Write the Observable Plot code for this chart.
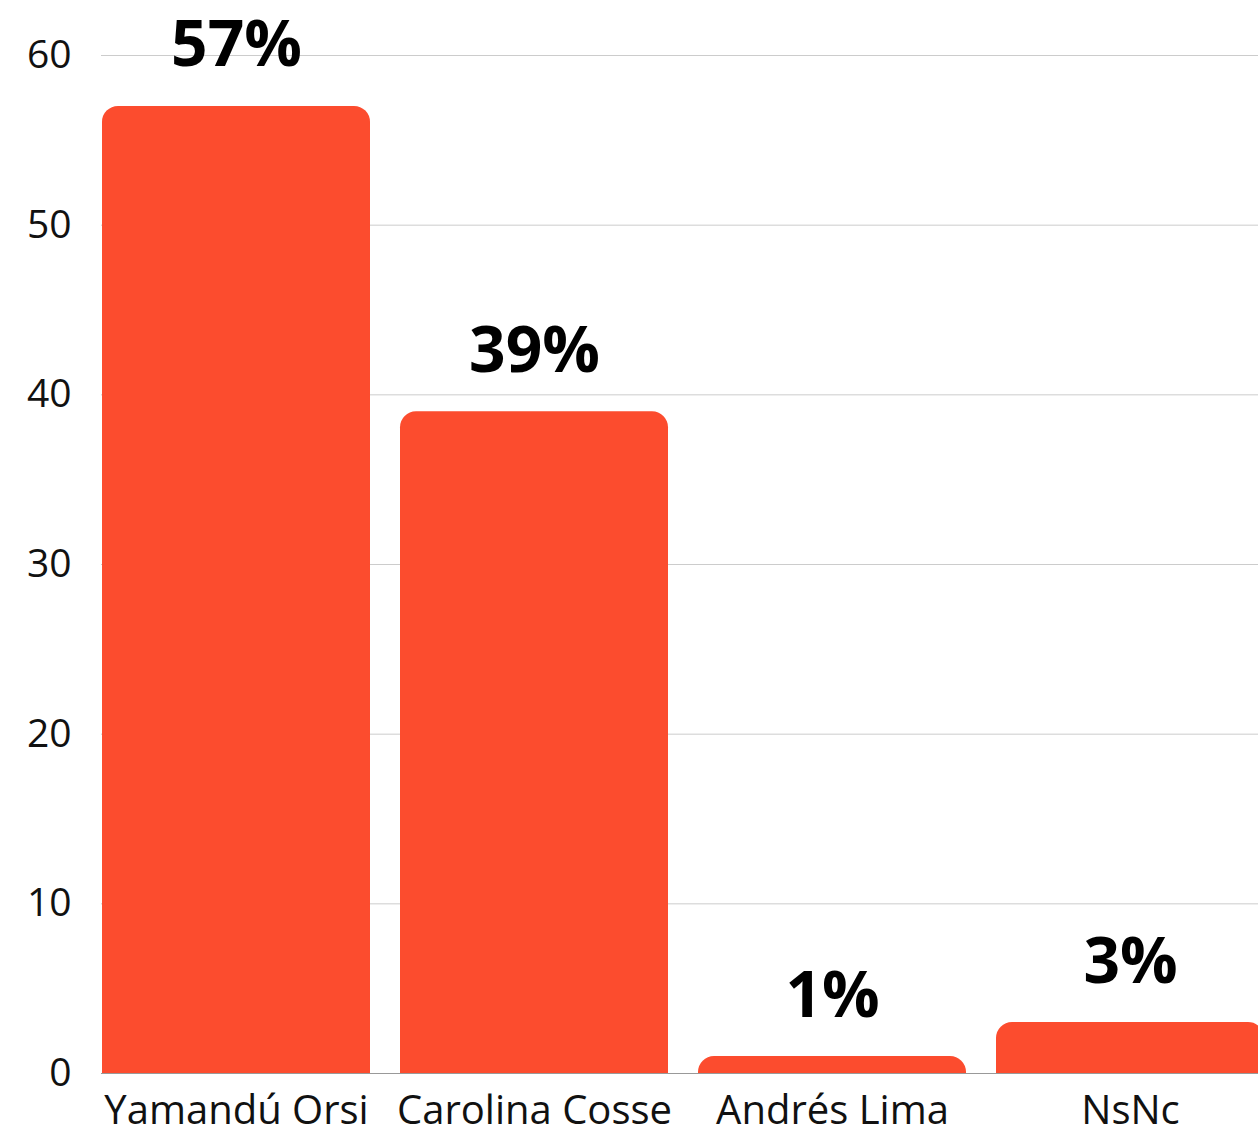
<!DOCTYPE html>
<html><head><meta charset="utf-8">
<script src="https://cdn.jsdelivr.net/npm/d3@7"></script>
<script src="https://cdn.jsdelivr.net/npm/@observablehq/plot@0.6"></script>
<style>body{margin:0;background:#fff} svg{font-family:"Open Sans"}</style>
</head><body><div id="chart"></div>
<script>
const candidates = ["Yamandú Orsi", "Carolina Cosse", "Andrés Lima", "NsNc"];
const shares = [57, 39, 1, 3];
const yTicks = [0, 10, 20, 30, 40, 50, 60];
const data = candidates.map((c, i) => ({candidate: c, share: shares[i]}));
const chart = Plot.plot({
  width: 1258, height: 1135,
  marginTop: 55, marginBottom: 62, marginLeft: 101, marginRight: 0,
  style: {fontFamily: "Open Sans", fontSize: "40px", color: "#111", background: "#fff", overflow: "visible"},
  x: {domain: candidates, range: [101, 1265], paddingInner: 0.1, paddingOuter: 0, label: null},
  y: {domain: [0, 60], ticks: yTicks, label: null},
  marks: [
    Plot.gridY(yTicks, {stroke: "#ccc", strokeOpacity: 1}),
    Plot.barY(data, {x: "candidate", y: "share", fill: "#FC4C2E", ry1: 16}),
    Plot.ruleY([0], {stroke: "#999"}),
    Plot.text(data, {x: "candidate", y: "share", text: d => `${d.share}%`, dy: -40, fontSize: 64, fontWeight: "bold", lineAnchor: "bottom", fill: "#000"}),
    Plot.axisY(yTicks, {tickSize: 0, tickPadding: 30, fontSize: 39, label: null}),
    Plot.axisX({tickSize: 0, tickPadding: 22, fontSize: 40, label: null})
  ]
});
document.getElementById("chart").append(chart);
</script>
</body></html>
